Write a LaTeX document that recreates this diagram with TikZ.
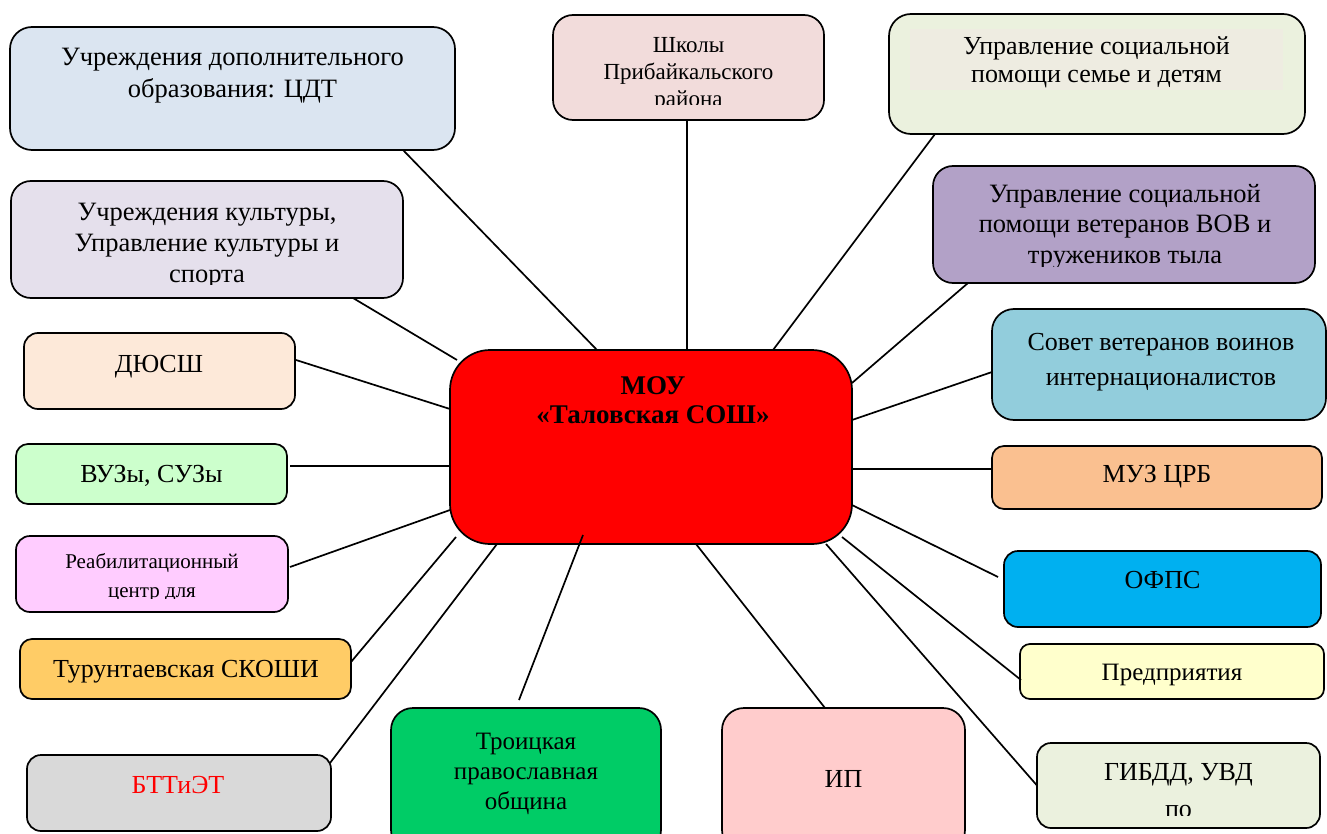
\documentclass[tikz,border=0pt]{standalone}
\usepackage{fontspec}
\setmainfont{Liberation Serif}
\newcommand\myfs[2]{\fontsize{#1}{#2}\selectfont}
\definecolor{cdtc}{HTML}{DBE5F1}
\definecolor{cultc}{HTML}{E5E0EC}
\definecolor{shkc}{HTML}{F2DCDB}
\definecolor{semc}{HTML}{EBF1DE}
\definecolor{seminc}{HTML}{EEECE1}
\definecolor{vovc}{HTML}{B2A1C7}
\definecolor{sovc}{HTML}{92CDDC}
\definecolor{muzc}{HTML}{FAC090}
\definecolor{ofpsc}{HTML}{00B0F0}
\definecolor{predc}{HTML}{FFFFCC}
\definecolor{gibc}{HTML}{EBF1DE}
\definecolor{ipc}{HTML}{FFCCCC}
\definecolor{troc}{HTML}{00CC66}
\definecolor{bttc}{HTML}{D9D9D9}
\definecolor{turc}{HTML}{FFCC66}
\definecolor{reabc}{HTML}{FFCCFF}
\definecolor{vuzc}{HTML}{CCFFCC}
\definecolor{dyuc}{HTML}{FDE9D9}
\definecolor{mouc}{HTML}{FF0000}
\begin{document}
\begin{tikzpicture}[x=1pt,y=-1pt,
  box/.style={draw=black, line width=1.7pt, rounded corners=#1, inner sep=0pt, outer sep=0pt},
  box/.default=14pt,
  txt/.style={anchor=base, align=center, inner sep=0pt, text=black},
  link/.style={draw=black, line width=1.7pt}]
\useasboundingbox (0,0) rectangle (1327,834);
\clip (0,0) rectangle (1327,834);

% ---------- boxes ----------
\node[box=22pt, fill=cdtc, minimum width=445pt, minimum height=123pt] (cdt) at (232.5,88.5) {};
\node[box=20pt, fill=cultc, minimum width=392pt, minimum height=117pt] (cult) at (207,239.5) {};
\node[box=20pt, fill=shkc, minimum width=271pt, minimum height=105pt] (shk) at (688.5,67.5) {};
\node[box=22pt, fill=semc, minimum width=416pt, minimum height=120pt] (sem) at (1097,74) {};
\node[fill=seminc, inner sep=0pt, minimum width=373pt, minimum height=61pt] (semin) at (1096.5,59.5) {};
\node[box=20pt, fill=vovc, minimum width=382pt, minimum height=117pt] (vov) at (1124,224.5) {};
\node[box=22pt, fill=sovc, minimum width=334pt, minimum height=111pt] (sov) at (1159,364.5) {};
\node[box=12pt, fill=muzc, minimum width=330pt, minimum height=63pt] (muz) at (1157,477.5) {};
\node[box=14pt, fill=ofpsc, minimum width=317pt, minimum height=76pt] (ofps) at (1162.5,589) {};
\node[box=10pt, fill=predc, minimum width=304pt, minimum height=55pt] (pred) at (1172,671.5) {};
\node[box=14pt, fill=gibc, minimum width=283pt, minimum height=85pt] (gib) at (1178.5,785.5) {};
\node[box=22pt, fill=ipc, minimum width=243pt, minimum height=144pt] (ip) at (843.5,780) {};
\node[box=22pt, fill=troc, minimum width=270pt, minimum height=144pt] (tro) at (526,780) {};
\node[box=14pt, fill=bttc, minimum width=304pt, minimum height=76pt] (btt) at (179,793) {};
\node[box=12pt, fill=turc, minimum width=331pt, minimum height=60pt] (tur) at (185.5,669) {};
\node[box=14pt, fill=reabc, minimum width=272pt, minimum height=76pt] (reab) at (152,574) {};
\node[box=12pt, fill=vuzc, minimum width=271pt, minimum height=60pt] (vuz) at (151.5,474) {};
\node[box=14pt, fill=dyuc, minimum width=271pt, minimum height=76pt] (dyu) at (159.5,371) {};
\node[box=40pt, fill=mouc, minimum width=402pt, minimum height=194pt] (mou) at (651,447) {};

% ---------- texts (anchor = baseline of last line) ----------
\node[txt, font=\myfs{26.5}{32}] (cdt-t) at (232.5,98) {Учреждения дополнительного\\образования: ЦДТ};
\begin{scope}
  \clip (11,181) rectangle (403,284);
  \node[txt, font=\myfs{26.5}{31}] (cult-t) at (207,282) {Учреждения культуры,\\Управление культуры и\\спорта};
\end{scope}
\begin{scope}
  \clip (553,15) rectangle (824,105);
  \node[txt, font=\myfs{23}{27}] (shk-t) at (688.5,107) {Школы\\Прибайкальского\\района};
\end{scope}
\node[txt, font=\myfs{26}{28}] (sem-t) at (1096.5,83) {Управление социальной\\помощи семье и детям};
\begin{scope}
  \clip (933,166) rectangle (1315,267);
  \node[txt, font=\myfs{26.5}{30}] (vov-t) at (1125,263) {Управление социальной\\помощи ветеранов ВОВ и\\тружеников тыла};
\end{scope}
\node[txt, font=\myfs{26}{35}] (sov-t) at (1161,385) {Совет ветеранов воинов\\интернационалистов};
\node[txt, font=\myfs{26}{31}] (muz-t) at (1157,482) {МУЗ ЦРБ};
\node[txt, font=\myfs{26}{31}] (ofps-t) at (1162.5,588) {ОФПС};
\node[txt, font=\myfs{25}{30}] (pred-t) at (1172,680) {Предприятия};
\begin{scope}
  \clip (1037,743) rectangle (1320,815);
  \node[txt, font=\myfs{26}{37}] (gib-t) at (1178.5,817) {ГИБДД, УВД\\по};
\end{scope}
\node[txt, font=\myfs{26}{31}] (ip-t) at (843.5,787) {ИП};
\node[txt, font=\myfs{25}{30}] (tro-t) at (526,809) {Троицкая\\православная\\община};
\node[txt, font=\myfs{26}{31}, text=red] (btt-t) at (178,793) {БТТиЭТ};
\node[txt, font=\myfs{26}{31}] (tur-t) at (186,677) {Турунтаевская СКОШИ};
\begin{scope}
  \clip (16,536) rectangle (288,598);
  \node[txt, font=\myfs{21}{29}] (reab-t) at (152,597) {Реабилитационный\\центр для};
\end{scope}
\node[txt, font=\myfs{26}{31}] (vuz-t) at (151.5,482) {ВУЗы, СУЗы};
\node[txt, font=\myfs{26}{31}] (dyu-t) at (159,372) {ДЮСШ};
\node[txt, font=\bfseries\myfs{27}{29}] (mou-t) at (653,423) {МОУ\\ «Таловская СОШ»};

% ---------- connectors ----------
\draw[link] ([xshift=-52pt]cdt.south east) -- ([xshift=147pt]mou.north west);
\draw[link] ([xshift=-50pt]cult.south east) -- ([shift={(7,10)}]mou.north west);
\draw[link] ([xshift=-1.5pt]shk.south) -- ([xshift=237pt]mou.north west);
\draw[link] ([xshift=46pt]sem.south west) -- ([xshift=323pt]mou.north west);
\draw[link] ([xshift=35pt]vov.south west) -- ([shift={(0,33)}]mou.north east);
\draw[link] ([shift={(0,7.5)}]sov.west) -- ([shift={(0,70)}]mou.north east);
\draw[link] ([shift={(0,-8.5)}]muz.west) -- ([shift={(0,119)}]mou.north east);
\draw[link] ([shift={(0,-39)}]mou.south east) -- ([shift={(-6,-12)}]ofps.west);
\draw[link] ([shift={(-10,-7)}]mou.south east) -- ([shift={(1,8.5)}]pred.west);
\draw[link] ([shift={(-26,0)}]mou.south east) -- (gib.west);
\draw[link] ([shift={(246,0)}]mou.south west) -- ([shift={(103,0)}]ip.north west);
\draw[link] ([shift={(133,-9)}]mou.south west) -- ([shift={(128,-8)}]tro.north west);
\draw[link] ([shift={(47,0)}]mou.south west) -- ([shift={(-1,8)}]btt.north east);
\draw[link] ([shift={(6,-7)}]mou.south west) -- ([shift={(0,-7)}]tur.east);
\draw[link] ([shift={(0,-34)}]mou.south west) -- ([shift={(2,-7)}]reab.east);
\draw[link] ([shift={(0,19)}]mou.west) -- ([shift={(3,-8)}]vuz.east);
\draw[link] ([shift={(0,-38)}]mou.west) -- ([shift={(1,-11)}]dyu.east);
\end{tikzpicture}
\end{document}
